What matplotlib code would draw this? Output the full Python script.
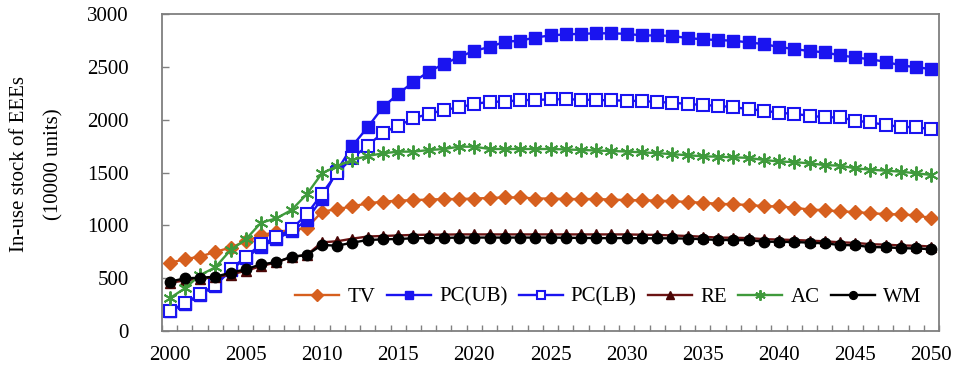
import numpy as np
import matplotlib
matplotlib.use("Agg")
import matplotlib.pyplot as plt

years = list(range(2000, 2051))

tv = [645, 680, 705, 750, 790, 850, 905, 940, 955, 975,
      1130, 1155, 1180, 1210, 1225, 1235, 1240, 1245, 1250, 1250,
      1255, 1260, 1265, 1265, 1255, 1255, 1250, 1250, 1250, 1245,
      1240, 1238, 1235, 1230, 1222, 1215, 1205, 1200, 1194, 1182,
      1180, 1168, 1150, 1145, 1132, 1128, 1115, 1108, 1104, 1095, 1070]

pc_ub = [190, 255, 345, 430, 575, 690, 800, 870, 945, 1050,
         1255, 1520, 1755, 1930, 2120, 2245, 2360, 2455, 2530, 2595,
         2655, 2690, 2740, 2750, 2780, 2800, 2810, 2815, 2820, 2820,
         2815, 2800, 2800, 2795, 2775, 2763, 2756, 2750, 2734, 2718,
         2690, 2671, 2652, 2640, 2611, 2592, 2573, 2551, 2515, 2500, 2480]

pc_lb = [190, 262, 350, 436, 584, 704, 821, 887, 966, 1105,
         1300, 1500, 1640, 1755, 1880, 1942, 2015, 2056, 2093, 2119,
         2150, 2172, 2172, 2188, 2188, 2195, 2195, 2192, 2188, 2185,
         2182, 2178, 2170, 2162, 2152, 2140, 2134, 2119, 2103, 2087,
         2068, 2056, 2040, 2024, 2024, 1992, 1977, 1951, 1935, 1929, 1913]

re = [455, 480, 495, 510, 535, 570, 615, 650, 700, 720,
      840, 850, 875, 895, 900, 905, 910, 912, 913, 915,
      915, 915, 915, 915, 915, 915, 915, 915, 915, 915,
      915, 912, 910, 905, 900, 893, 885, 883, 880, 870,
      866, 862, 856, 850, 840, 835, 822, 818, 810, 808, 800]

ac = [310, 404, 530, 603, 767, 868, 1026, 1067, 1146, 1295,
      1494, 1563, 1620, 1658, 1683, 1699, 1699, 1714, 1724, 1746,
      1746, 1724, 1724, 1724, 1724, 1724, 1720, 1715, 1710, 1705,
      1700, 1692, 1685, 1675, 1665, 1655, 1651, 1645, 1640, 1620,
      1606, 1600, 1588, 1572, 1566, 1541, 1528, 1519, 1509, 1494, 1478]

wm = [467, 499, 505, 514, 552, 584, 632, 651, 704, 720,
      815, 808, 837, 862, 868, 872, 878, 880, 882, 885,
      885, 885, 885, 885, 885, 885, 883, 882, 880, 880,
      880, 878, 878, 878, 875, 870, 862, 862, 860, 846,
      845, 843, 837, 830, 815, 812, 795, 793, 785, 782, 775]

y_ticks = [0, 500, 1000, 1500, 2000, 2500, 3000]
x_label_years = list(range(2000, 2051, 5))

plt.rcParams["font.family"] = ["Liberation Serif", "DejaVu Serif"]

fig = plt.figure(figsize=(9.56, 3.91), dpi=100)
ax = fig.add_axes([162 / 956, 1 - 331 / 391, (939 - 162) / 956, (331 - 14.3) / 391])

x = np.arange(len(years))
asterisk = (6, 2, 0)

series = [
    ("TV", tv, dict(color="#D65F1E", marker="D", ms=7.5, mfc="#D65F1E", mec="#D65F1E")),
    ("PC(UB)", pc_ub, dict(color="#1A14F0", marker="s", ms=8, mfc="#1A14F0", mec="#1A14F0")),
    ("PC(LB)", pc_lb, dict(color="#1A14F0", marker="s", ms=8, mfc="white", mec="#1A14F0", mew=1.5)),
    ("RE", re, dict(color="#6B1414", marker="^", ms=7.5, mfc="#4A0606", mec="#4A0606")),
    ("AC", ac, dict(color="#3F9A3C", marker=asterisk, ms=10, mfc="#3F9A3C", mec="#3F9A3C", mew=1.4)),
    ("WM", wm, dict(color="black", marker="o", ms=7.5, mfc="black", mec="black")),
]

for name, vals, style in series:
    ax.plot(x, vals, lw=1.7, label=name, **style)

ax.set_xlim(-0.5, len(years) - 0.5)
ax.set_ylim(0, 3000)

ax.set_yticks(y_ticks)
ax.set_yticklabels([str(v) for v in y_ticks])
ax.tick_params(axis="y", direction="in", length=5, width=1, color="#808080",
               labelsize=15, pad=24)

ax.set_xticks([years.index(y) for y in x_label_years])
ax.set_xticklabels([str(y) for y in x_label_years])
ax.set_xticks(np.arange(len(years) + 1) - 0.5, minor=True)
ax.tick_params(axis="x", which="major", length=0, labelsize=15, pad=11)
ax.tick_params(axis="x", which="minor", direction="in", length=4.5, width=1, color="#808080")

for sp in ax.spines.values():
    sp.set_color("#7F7F7F")
    sp.set_linewidth(1.3)

leg = ax.legend(loc="lower right", bbox_to_anchor=(0.988, 0.05), ncol=6, frameon=False,
                fontsize=15, handlelength=2.1, handletextpad=0.4,
                columnspacing=0.55, markerscale=0.75, borderaxespad=0)

fig.text(20 / 956, 1 - 164 / 391, "In-use stock of EEEs", rotation=90,
         ha="center", va="center", fontsize=15)
fig.text(54 / 956, 1 - 164 / 391, "(10000 units)", rotation=90,
         ha="center", va="center", fontsize=15)

fig.savefig("out.png", dpi=100)
